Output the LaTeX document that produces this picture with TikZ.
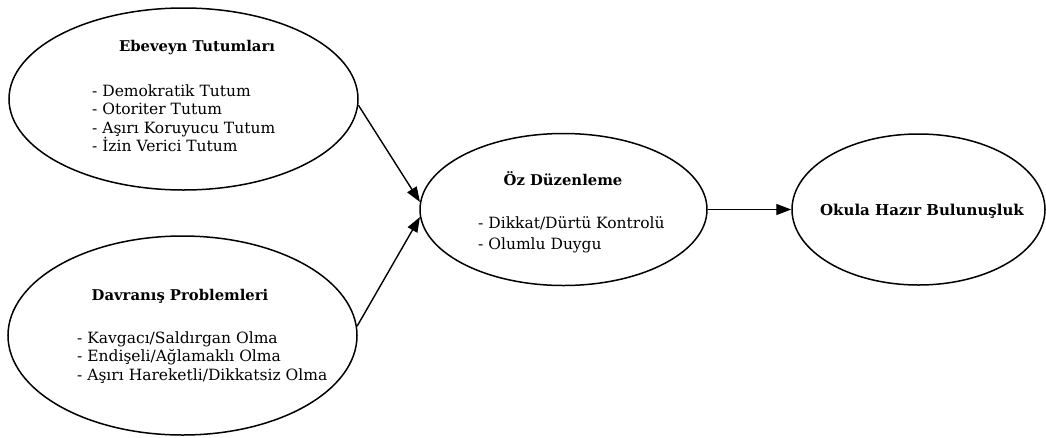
\documentclass[tikz,border=0pt]{standalone}
\usepackage{fontspec}
\setmainfont{DejaVu Serif}
\usepackage{tikz}
\usetikzlibrary{positioning}
\usetikzlibrary{shapes.geometric}
\usetikzlibrary{arrows.meta}

\begin{document}
\begin{tikzpicture}[x=1pt, y=-1pt,
    oval/.style={draw, ellipse, line width=1.5pt, inner sep=0pt},
    title/.style={font=\fontsize{14.8}{18.3}\selectfont\bfseries},
    items/.style={font=\fontsize{15.5}{18.4}\selectfont, align=left, anchor=north west, inner sep=0pt},
    link/.style={line width=1.4pt, -{Triangle[length=15pt, width=11pt]}}]
  \useasboundingbox (0,0) rectangle (1046,437);

  \node [oval, name=ebeveyn, minimum width=349pt, minimum height=182pt] at (183.5,99) {};
  \node [title] at (197,48) {Ebeveyn Tutumları};
  \node [items] at (92,84.5) {- Demokratik Tutum\\- Otoriter Tutum\\- Aşırı Koruyucu Tutum\\- İzin Verici Tutum};

  \node [oval, name=davranis, minimum width=349pt, minimum height=199pt] at (182.5,335.5) {};
  \node [title] at (180,296.5) {Davranış Problemleri};
  \node [items] at (77,331.5) {- Kavgacı/Saldırgan Olma\\- Endişeli/Ağlamaklı Olma\\- Aşırı Hareketli/Dikkatsiz Olma};

  \node [oval, name=oz, minimum width=287pt, minimum height=152pt] at (563.5,209.5) {};
  \node [title] at (563,178.5) {Öz Düzenleme};
  \node [items, font=\fontsize{15.5}{21}\selectfont] at (478,216.5) {- Dikkat/Dürtü Kontrolü\\- Olumlu Duygu};

  \node [oval, name=okula, minimum width=253pt, minimum height=151pt] at (918.5,209.5) {};
  \node [title, font=\fontsize{15}{18}\selectfont\bfseries] at (922,211) {Okula Hazır Bulunuşluk};

  \draw [link] (ebeveyn.-2) -- (oz.177);
  \draw [link] (davranis.3) -- (oz.183);
  \draw [link] (oz.east) -- (okula.west);

\end{tikzpicture}
\end{document}
